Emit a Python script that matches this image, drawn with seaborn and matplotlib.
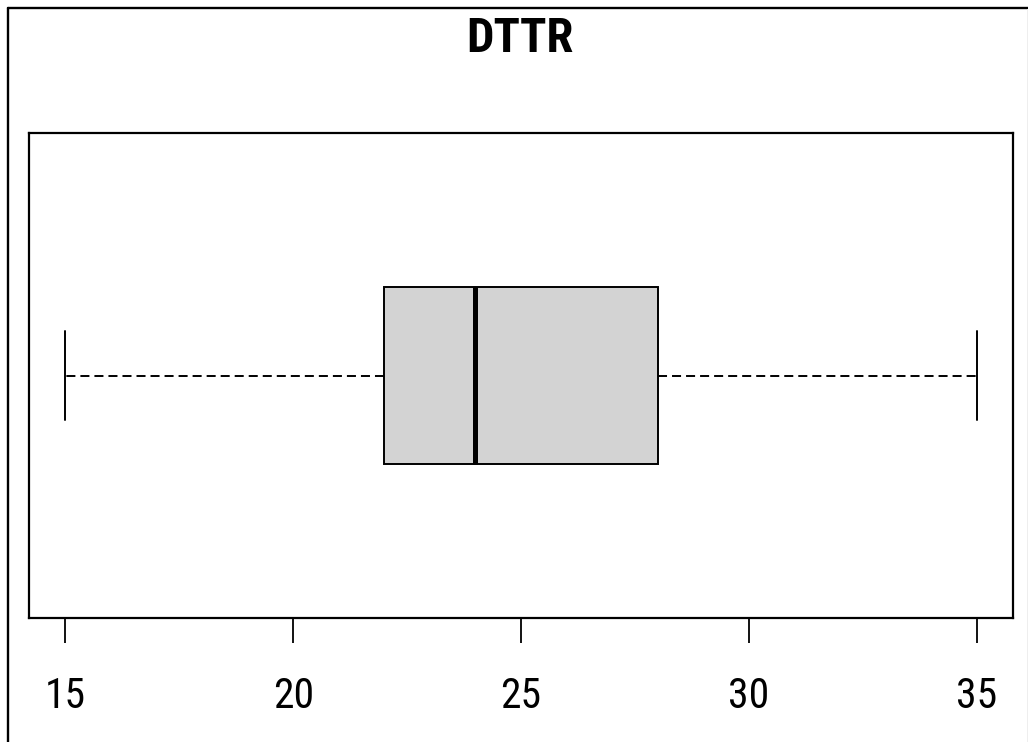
import matplotlib
matplotlib.use("Agg")
import matplotlib.pyplot as plt
from matplotlib.lines import Line2D
import seaborn as sns

# Five-number summary of DTTR: min, Q1, median, Q3, max
dttr = [15, 22, 24, 28, 35]
x_ticks = [15, 20, 25, 30, 35]
title = "DTTR"

sns.set_style("white")
plt.rcParams["lines.scale_dashes"] = False
plt.rcParams["font.family"] = ["Roboto Condensed", "DejaVu Sans"]

W, H = 1028, 742
fig = plt.figure(figsize=(W / 100, H / 100), dpi=100)
ax = fig.add_axes([29 / W, 1 - 618 / H, (1013 - 29) / W, (618 - 133) / H])

sns.boxplot(
    x=dttr, ax=ax, orient="h", width=0.8,
    color="#d3d3d3", saturation=1, linecolor="black", linewidth=1.4,
    whis=1.5,
    whiskerprops=dict(linestyle=(0, (6.5, 3.6)), color="black", linewidth=1.4),
    capprops=dict(color="black", linewidth=1.4),
    medianprops=dict(color="black", linewidth=3.6),
    boxprops=dict(edgecolor="black", linewidth=1.4),
)

ax.set_xlim(14.2, 35.8)
ax.set_ylim(1.096, -1.096)
ax.set_xticks(x_ticks)
ax.set_xticklabels([str(t) for t in x_ticks])
ax.set_yticks([])
ax.set_xlabel("")
ax.set_ylabel("")
ax.tick_params(axis="x", direction="out", length=18, width=1.3, color="black",
               pad=24, labelsize=30, labelcolor="black", bottom=True)
for sp in ax.spines.values():
    sp.set_visible(True)
    sp.set_color("black")
    sp.set_linewidth(1.6)

fig.text(520 / W, 1 - 52 / H, title, ha="center", va="baseline",
         fontsize=35, fontweight="bold", color="black")

# frame lines along the top and left edges
fig.add_artist(Line2D([8 / W, 1], [1 - 7.5 / H, 1 - 7.5 / H],
                      transform=fig.transFigure, color="black", lw=1.7))
fig.add_artist(Line2D([8.3 / W, 8.3 / W], [0, 1 - 7.5 / H],
                      transform=fig.transFigure, color="black", lw=1.7))
fig.add_artist(Line2D([1026.5 / W, 1026.5 / W], [0, 1 - 9 / H],
                      transform=fig.transFigure, color="#eeeeee", lw=0.7))

fig.savefig("out.png", dpi=100, facecolor="white")
